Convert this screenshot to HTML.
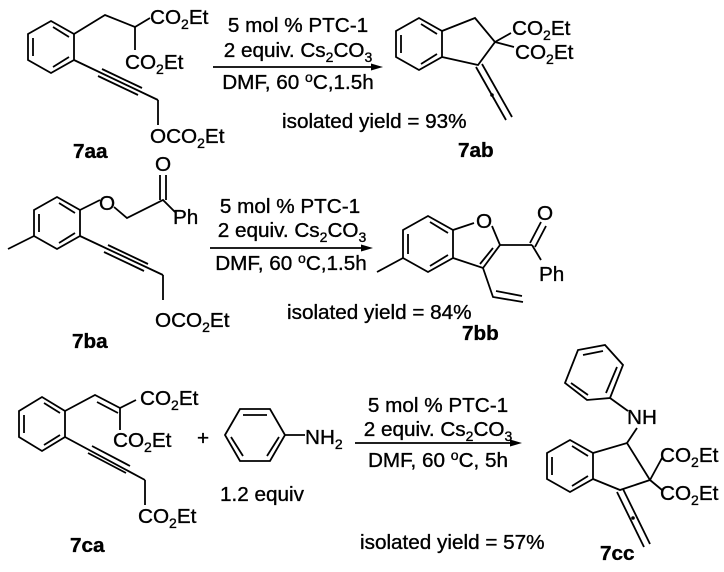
<!DOCTYPE html>
<html><head><meta charset="utf-8"><style>
html,body{margin:0;padding:0;background:#fff;}
svg{display:block;}
text{font-family:"Liberation Sans",Arial,sans-serif;font-size:20.7px;fill:#000;stroke:#000;stroke-width:0.35;}
.b{font-weight:bold;}
line,polyline,polygon{stroke:#000;stroke-width:1.8;fill:none;}
</style></head><body>
<svg width="724" height="572" viewBox="0 0 724 572" xmlns="http://www.w3.org/2000/svg">
<!-- ===== 7aa ===== -->
<polygon points="28,34 51,21 74,34 74,60 51,73 28,60"/>
<line x1="33" y1="38" x2="33" y2="56"/><line x1="53" y1="27" x2="69" y2="37"/><line x1="53" y1="67" x2="69" y2="57"/>
<polyline points="74,34 105,15 135,27 150,18"/>
<line x1="135" y1="27" x2="135" y2="50"/>
<text x="150" y="24">CO<tspan font-size="14" dy="5">2</tspan><tspan dy="-5">Et</tspan></text>
<text x="125" y="69">CO<tspan font-size="14" dy="5">2</tspan><tspan dy="-5">Et</tspan></text>
<line x1="74" y1="60" x2="158" y2="100"/>
<line x1="102" y1="69" x2="142" y2="88"/><line x1="98" y1="76" x2="138" y2="95"/>
<line x1="158" y1="100" x2="158" y2="125"/>
<text x="150" y="143">OCO<tspan font-size="14" dy="5">2</tspan><tspan dy="-5">Et</tspan></text>
<text class="b" x="73" y="158">7aa</text>
<!-- arrow 1 -->
<line x1="213" y1="67" x2="376" y2="67"/><polygon points="383,67 371,63.5 371,70.5" style="fill:#000;stroke:none"/>
<text x="298" y="32" text-anchor="middle">5 mol % PTC-1</text>
<text x="298" y="57" text-anchor="middle">2 equiv. Cs<tspan font-size="14" dy="5">2</tspan><tspan dy="-5">CO</tspan><tspan font-size="14" dy="5">3</tspan></text>
<text x="298" y="89" text-anchor="middle">DMF, 60 <tspan font-size="14" dy="-7">o</tspan><tspan dy="7">C,1.5h</tspan></text>
<text x="282" y="128">isolated yield = 93%</text>
<!-- 7ab -->
<polygon points="396,31 419,18 442,31 442,57 419,70 396,57"/>
<line x1="401" y1="35" x2="401" y2="53"/><line x1="421" y1="24" x2="437" y2="34"/><line x1="421" y1="64" x2="437" y2="54"/>
<polyline points="442,31 475,18 495,42 478,65 442,57"/>
<line x1="495" y1="42" x2="511" y2="33"/><line x1="495" y1="42" x2="514" y2="47"/>
<text x="512" y="35">CO<tspan font-size="14" dy="5">2</tspan><tspan dy="-5">Et</tspan></text>
<text x="515" y="59">CO<tspan font-size="14" dy="5">2</tspan><tspan dy="-5">Et</tspan></text>
<line x1="476" y1="67" x2="506" y2="120"/><line x1="482" y1="64" x2="512" y2="117"/>
<circle cx="492" cy="95" r="1.8" fill="#000"/>
<text class="b" x="458" y="157">7ab</text>

<!-- ===== 7ba ===== -->
<polygon points="34,210 57,197 80,210 80,236 57,249 34,236"/>
<line x1="39" y1="214" x2="39" y2="232"/><line x1="59" y1="203" x2="75" y2="213"/><line x1="59" y1="243" x2="75" y2="233"/>
<line x1="34" y1="236" x2="8" y2="249"/>
<line x1="80" y1="210" x2="100" y2="200"/>
<text x="107" y="210" text-anchor="middle">O</text>
<polyline points="114,207 127,218 163,200 175,212"/>
<line x1="160" y1="175" x2="160" y2="200"/><line x1="166" y1="175" x2="166" y2="200"/>
<text x="163" y="171" text-anchor="middle">O</text>
<text x="173" y="224">Ph</text>
<line x1="80" y1="236" x2="163" y2="275"/>
<line x1="108" y1="245" x2="148" y2="264"/><line x1="104" y1="252" x2="144" y2="271"/>
<line x1="163" y1="275" x2="163" y2="300"/>
<text x="155" y="327">OCO<tspan font-size="14" dy="5">2</tspan><tspan dy="-5">Et</tspan></text>
<text class="b" x="72" y="348">7ba</text>
<!-- arrow 2 -->
<line x1="210" y1="248" x2="366" y2="248"/><polygon points="373,248 361,244.5 361,251.5" style="fill:#000;stroke:none"/>
<text x="290" y="213" text-anchor="middle">5 mol % PTC-1</text>
<text x="292" y="237" text-anchor="middle">2 equiv. Cs<tspan font-size="14" dy="5">2</tspan><tspan dy="-5">CO</tspan><tspan font-size="14" dy="5">3</tspan></text>
<text x="291" y="270" text-anchor="middle">DMF, 60 <tspan font-size="14" dy="-7">o</tspan><tspan dy="7">C,1.5h</tspan></text>
<text x="287" y="319">isolated yield = 84%</text>
<!-- 7bb -->
<polygon points="403,230 428,216 453,230 453,258 428,272 403,258"/>
<line x1="408" y1="234" x2="408" y2="254"/><line x1="430" y1="222" x2="448" y2="233"/><line x1="430" y1="266" x2="448" y2="255"/>
<line x1="403" y1="258" x2="377" y2="272"/>
<line x1="453" y1="230" x2="474" y2="223"/>
<text x="484" y="228" text-anchor="middle">O</text>
<polyline points="492,226 500,245 483,268 453,258"/>
<line x1="493" y1="248" x2="480" y2="264"/>
<line x1="500" y1="245" x2="532" y2="245"/>
<line x1="530" y1="243" x2="541" y2="222"/><line x1="535" y1="247" x2="546" y2="226"/>
<text x="545" y="220" text-anchor="middle">O</text>
<line x1="532" y1="245" x2="541" y2="260"/>
<text x="539" y="281">Ph</text>
<polyline points="483,268 493,297 523,302"/>
<line x1="496" y1="291" x2="522" y2="296"/>
<text class="b" x="462" y="340">7bb</text>

<!-- ===== 7ca ===== -->
<polygon points="19,411 42,397 65,411 65,437 42,451 19,437"/>
<line x1="24" y1="415" x2="24" y2="433"/><line x1="44" y1="403" x2="60" y2="413"/><line x1="44" y1="445" x2="60" y2="435"/>
<polyline points="65,411 95,395 120,408 136,400"/>
<line x1="97" y1="402" x2="118" y2="413"/>
<line x1="120" y1="408" x2="120" y2="430"/>
<text x="140" y="405">CO<tspan font-size="14" dy="5">2</tspan><tspan dy="-5">Et</tspan></text>
<text x="113" y="447">CO<tspan font-size="14" dy="5">2</tspan><tspan dy="-5">Et</tspan></text>
<line x1="65" y1="437" x2="145" y2="480"/>
<line x1="92" y1="446" x2="130" y2="466"/><line x1="88" y1="453" x2="126" y2="473"/>
<line x1="145" y1="480" x2="145" y2="505"/>
<text x="138" y="523">CO<tspan font-size="14" dy="5">2</tspan><tspan dy="-5">Et</tspan></text>
<text class="b" x="70" y="552">7ca</text>
<text x="203" y="445" text-anchor="middle" font-size="16">+</text>
<!-- aniline -->
<polygon points="225,435 240,409 270,409 285,435 270,461 240,461"/>
<line x1="243" y1="415" x2="267" y2="415"/>
<line x1="231" y1="437" x2="243" y2="456"/>
<line x1="279" y1="437" x2="267" y2="456"/>
<line x1="285" y1="435" x2="305" y2="435"/>
<text x="305" y="444">NH<tspan font-size="14" dy="5">2</tspan></text>
<text x="220" y="501">1.2 equiv</text>
<!-- arrow 3 -->
<line x1="355" y1="443" x2="515" y2="443"/><polygon points="522,443 510,439.5 510,446.5" style="fill:#000;stroke:none"/>
<text x="438" y="412" text-anchor="middle">5 mol % PTC-1</text>
<text x="438" y="436" text-anchor="middle">2 equiv. Cs<tspan font-size="14" dy="5">2</tspan><tspan dy="-5">CO</tspan><tspan font-size="14" dy="5">3</tspan></text>
<text x="438" y="467" text-anchor="middle">DMF, 60 <tspan font-size="14" dy="-7">o</tspan><tspan dy="7">C, 5h</tspan></text>
<text x="360" y="549">isolated yield = 57%</text>
<!-- 7cc -->
<polygon points="565,383 578,350 605,345 623,365 610,398 587,400"/>
<line x1="583" y1="355" x2="603" y2="351"/><line x1="617" y1="367" x2="606" y2="393"/>
<line x1="571" y1="383" x2="588" y2="395"/>
<line x1="610" y1="398" x2="628" y2="411"/>
<text x="627" y="424">NH</text>
<line x1="637" y1="428" x2="627" y2="443"/>
<polygon points="547,453 570,440 593,453 593,479 570,492 547,479"/>
<line x1="552" y1="457" x2="552" y2="475"/><line x1="572" y1="446" x2="588" y2="456"/><line x1="572" y1="486" x2="588" y2="476"/>
<polyline points="593,453 627,443 650,480 620,490 593,479"/>
<line x1="650" y1="480" x2="662" y2="458"/><line x1="650" y1="480" x2="662" y2="490"/>
<text x="660" y="462">CO<tspan font-size="14" dy="5">2</tspan><tspan dy="-5">Et</tspan></text>
<text x="660" y="500">CO<tspan font-size="14" dy="5">2</tspan><tspan dy="-5">Et</tspan></text>
<line x1="617" y1="492" x2="644" y2="547"/><line x1="623" y1="489" x2="650" y2="544"/>
<circle cx="633" cy="518" r="1.8" fill="#000"/>
<text class="b" x="600" y="560">7cc</text>
</svg>
</body></html>
